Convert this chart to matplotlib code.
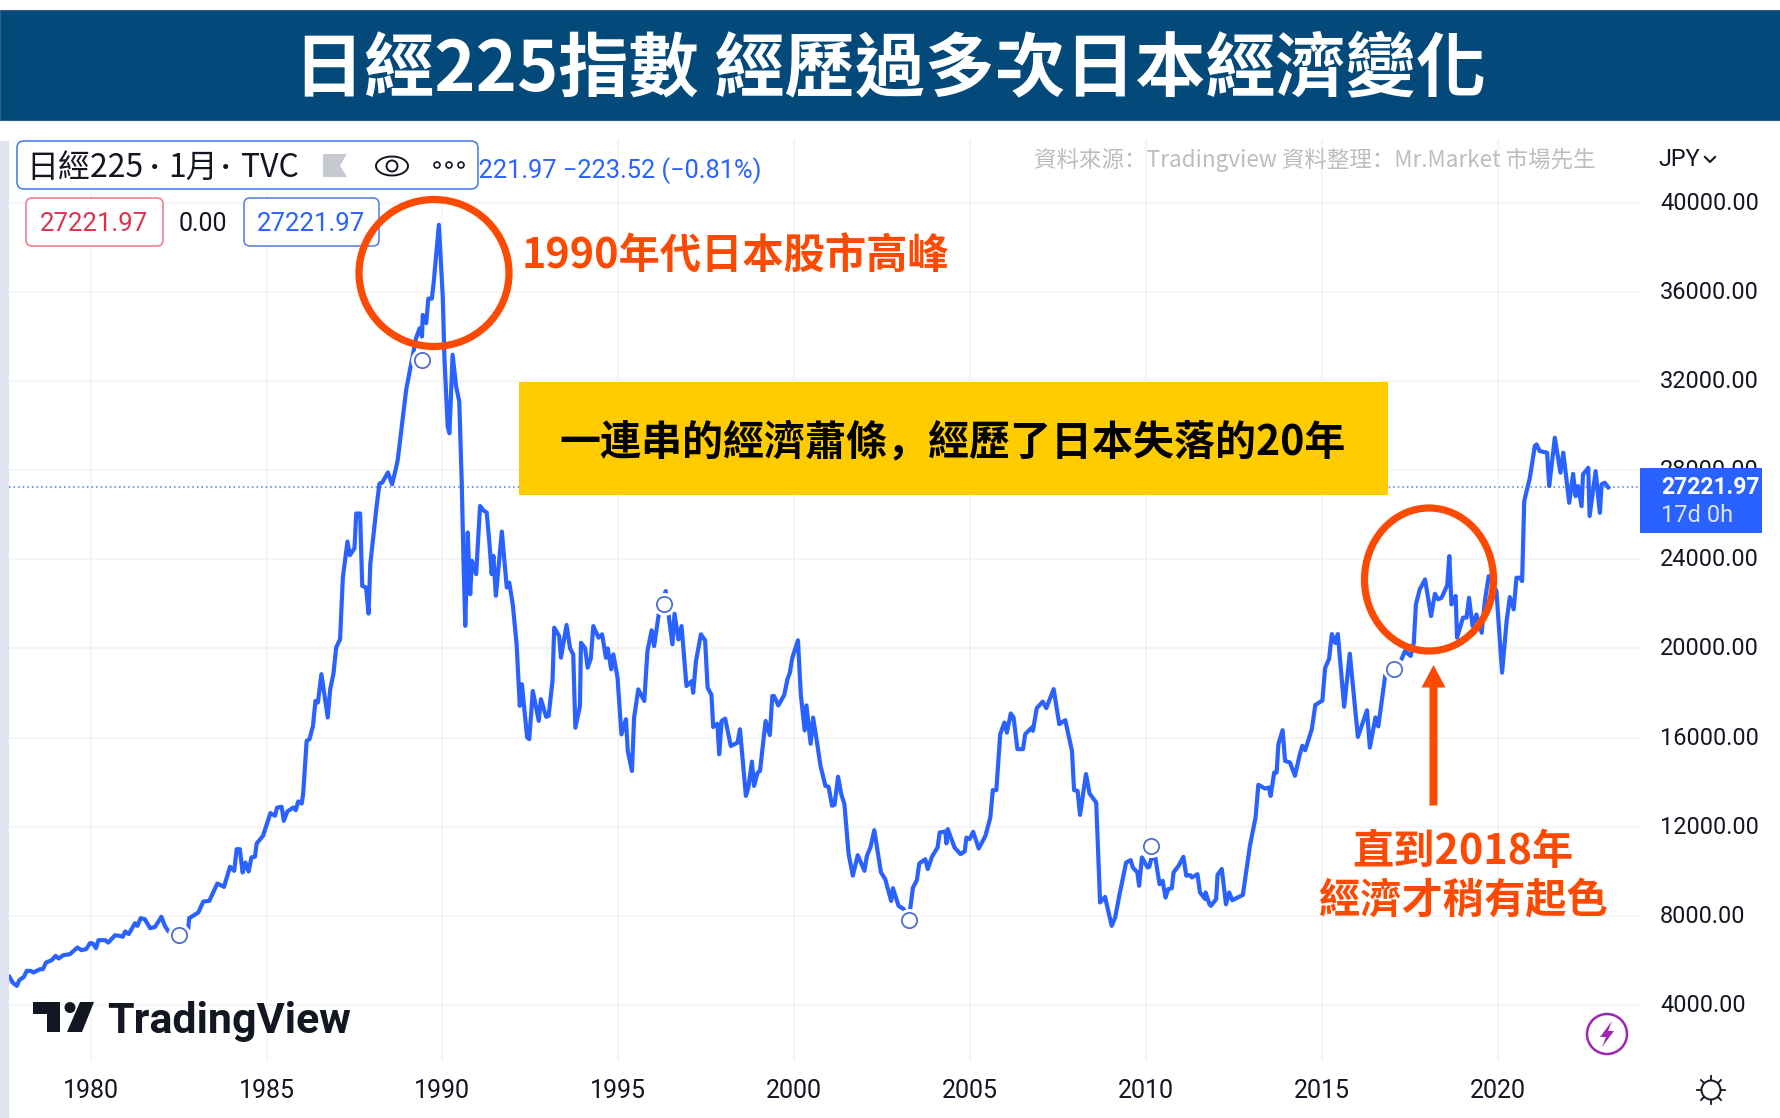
import matplotlib
matplotlib.use("Agg")
import matplotlib.pyplot as plt
from matplotlib.patches import Rectangle, Ellipse, FancyBboxPatch, Polygon, Circle
from matplotlib.transforms import ScaledTranslation

# ---------- data ----------
years_a = [1977.69,1977.78,1977.90,1977.97,1978.10,1978.18,1978.30,1978.37,1978.56,1978.64,1978.73,1978.89,1979.00,1979.09,1979.22,1979.41,1979.62,1979.74,1979.87,1979.98,
           1980.06,1980.15,1980.22,1980.41,1980.50,1980.69,1980.83,1980.91,1980.98,1981.08,1981.26,1981.33,1981.42,1981.54,1981.69,1981.83,1982.01,1982.11,1982.21,1982.49,
           1982.77,1982.80,1983.06,1983.20,1983.37,1983.60,1983.79,1983.96,1984.08,1984.15,1984.24,1984.32,1984.40,1984.49,1984.57,1984.67,1984.72,1984.90,
           1985.11,1985.24,1985.30,1985.43,1985.49,1985.59,1985.76,1985.83,1985.90,1986.00,1986.04]
values_a = [5262,5008,4858,5113,5262,5530,5530,5457,5606,5606,5905,6010,6205,6085,6235,6280,6580,6460,6505,6775,
            6760,6550,6910,6910,6800,7130,7100,7060,7300,7180,7670,7550,7895,7850,7445,7505,7955,7550,7300,7060,
            7400,7895,8150,8640,8670,9450,9300,10200,10020,10990,10990,9945,10390,9990,10620,10650,11250,11590,
            12610,12490,12860,12890,12260,12680,12860,12740,13130,13040,13460]

years_b = [1986.14,1986.22,1986.32,1986.39,1986.46,1986.56,1986.74,1986.81,1986.90,1986.98,1987.09,1987.17,1987.30,1987.37,1987.50,1987.55,1987.66,1987.72,1987.83,1987.90,1987.95,
           1988.13,1988.21,1988.29,1988.45,1988.57,1988.68,1988.73,1988.97,1989.18,1989.25,1989.35,1989.42,1989.44,1989.54,1989.60,1989.70,1989.75,1989.90,
           1990.01,1990.06,1990.15,1990.20,1990.29,1990.39,1990.48,1990.55,1990.60,1990.65,1990.72,1990.79,1990.84,1990.96,
           1991.07,1991.16,1991.26,1991.34,1991.40,1991.45,1991.52,1991.69,1991.83,1991.90,1992.00,1992.11,1992.20,1992.26,1992.41,1992.47,1992.57,1992.74,1992.80,1992.95]
values_b = [15850,15925,16520,17640,17570,18840,16900,18170,18840,20040,20410,23180,24790,24180,24490,26050,26050,22800,22730,21560,23780,
            26390,27390,27440,27890,27360,28080,28460,31600,33320,33910,34360,33990,34960,34590,35690,35690,36380,39000,
            35780,32940,29950,29650,33170,31750,31070,27410,23930,21010,25200,22430,23930,23330,
            26390,26200,26090,24670,23330,24150,22360,25240,22730,22950,21980,20190,17420,18390,16000,15930,18090,16750,17720,16930]

years_c = [1993.02,1993.13,1993.18,1993.32,1993.37,1993.53,1993.63,1993.72,1993.78,1993.91,1993.94,1994.06,1994.13,1994.22,1994.29,1994.44,1994.54,1994.65,1994.70,1994.80,1994.86,1994.98,
           1995.09,1995.22,1995.27,1995.39,1995.45,1995.57,1995.74,1995.83,1995.95,1996.02,1996.15,1996.35,1996.43,1996.54,1996.60,1996.71,1996.80,1996.94,
           1997.09,1997.13,1997.21,1997.35,1997.47,1997.54,1997.65,1997.70,1997.82,1997.87,1997.94,1998.04,1998.20,1998.39,1998.46,1998.63,1998.70,1998.80,1998.86,1998.96,
           1999.03,1999.19,1999.31,1999.38,1999.43,1999.55,1999.72,1999.81,1999.88,1999.95,2000.11,2000.19,2000.30,2000.35,2000.47,2000.54,2000.66]
values_c = [16970,18530,20930,20550,19580,21050,20000,19730,16440,17410,20250,20000,19130,19550,21000,20480,20630,19580,20000,19060,19730,18680,
            16140,16820,15400,14500,16890,18160,17640,19880,20810,20100,21520,22570,21520,20180,21550,20400,21000,18310,
            18530,18010,19430,20630,20360,18240,17910,16470,16620,15250,16740,16850,15620,15770,16370,13380,13750,14920,13830,14420,
            14500,16740,16110,17860,17860,17440,17910,18610,18910,19580,20360,17940,16320,17440,15720,16890,15690]

years_d = [2000.75,2000.89,2000.98,2001.08,2001.15,2001.25,2001.34,2001.43,2001.55,2001.67,2001.81,2002.00,2002.07,2002.17,2002.28,2002.47,2002.59,2002.76,2002.81,2002.97,
           2003.12,2003.26,2003.30,2003.38,2003.49,2003.56,2003.73,2003.80,2003.92,2004.08,2004.14,2004.30,2004.33,2004.37,2004.56,2004.73,2004.85,2004.90,2004.99,
           2005.09,2005.25,2005.44,2005.58,2005.65,2005.75,2005.86,2005.98,2006.05,2006.16,2006.24,2006.35,2006.51,2006.57,2006.76,2006.79,2006.90,
           2007.07,2007.17,2007.38,2007.54,2007.71,2007.90,2007.96,2008.06,2008.13,2008.30,2008.40,2008.59]
values_d = [14730,13830,13790,12940,12980,14240,13460,13010,10770,9800,10720,10020,10690,11070,11840,9950,9650,8670,9240,8450,
            8300,7700,8300,9270,9600,10350,10540,10100,10650,11070,11740,11780,11250,11890,11070,10770,10890,11510,11440,
            11770,11020,11590,12410,13640,13640,16150,16670,16220,17080,16900,15480,15480,16150,16450,16300,17320,
            17610,17320,18170,16600,16780,15400,13640,13610,12530,14360,13490,13080]

years_e = [2008.70,2008.84,2009.03,2009.13,2009.25,2009.44,2009.57,2009.63,2009.76,2009.81,2009.89,2010.05,2010.10,2010.15,2010.27,2010.39,2010.48,2010.56,2010.64,2010.74,2010.79,2010.93,
           2011.07,2011.15,2011.26,2011.31,2011.47,2011.54,2011.69,2011.70,2011.81,2011.85,2012.00,2012.04,2012.16,2012.28,2012.37,2012.46,2012.76,2012.96,
           2013.12,2013.20,2013.39,2013.50,2013.55,2013.65,2013.72,2013.77,2013.89,2013.96,2014.10,2014.24,2014.38,2014.45,2014.53,2014.72,2014.82]
values_e = [8600,8850,7550,7930,8940,10390,10500,10170,9950,9350,10620,10170,10200,10540,10620,9420,9570,8820,9200,9240,9950,10240,
            10650,9800,9830,9720,9870,9050,8750,9050,8520,8450,8750,9840,10100,8520,9050,8700,8940,11140,
            12410,13880,13710,13760,13380,14430,14430,15700,16330,14950,14880,14280,15250,15630,15430,16370,17460]

years_f = [2015.02,2015.10,2015.21,2015.29,2015.39,2015.46,2015.64,2015.80,2016.03,2016.29,2016.37,2016.53,2016.61,2016.81,
           2017.04,2017.27,2017.37,2017.53,2017.62,2017.68,2017.79,2017.94,2018.11,2018.22,2018.31,2018.41,2018.57,2018.63,2018.69,2018.81,2018.85,
           2019.02,2019.12,2019.19,2019.29,2019.40,2019.55,2019.64,2019.75,2019.97,2020.13,2020.26,2020.35,2020.46,2020.54,2020.63,2020.70,2020.76,2020.92,
           2021.06,2021.11,2021.20,2021.41,2021.47,2021.63,2021.79,2021.87,2022.04,2022.15,2022.22,2022.29,2022.39,2022.43,2022.58,2022.62,2022.79,2022.91,2022.96,2023.05,2023.15]
values_f = [17660,19130,19520,20640,20240,20640,17380,19760,16030,17220,15550,16900,16500,18810,
            19060,19510,19880,19660,20250,21970,22650,23090,21450,22450,22200,22270,22830,24140,21970,22350,20480,
            21380,21380,22270,21000,21520,20700,22120,23240,22570,18910,21230,22300,21750,23170,23170,23020,26610,27650,
            29070,29150,28850,28780,27280,29450,27880,28780,26530,27830,26830,27280,26380,27800,28100,25940,27950,26080,27360,27430,27221.97]

event_years = [1982.50,1989.41,1996.31,2003.26,2010.15,2017.06]
event_values = [7130,32940,21970,7810,11120,19090]

y_ticks = [4000,8000,12000,16000,20000,24000,28000,32000,36000,40000]
x_ticks = [1980,1985,1990,1995,2000,2005,2010,2015,2020]
last_price = 27221.97

title_text = "日經225指數 經歷過多次日本經濟變化"
peak_text = "1990年代日本股市高峰"
band_text = "一連串的經濟蕭條，經歷了日本失落的20年"
note_lines = ["直到2018年", "經濟才稍有起色"]
source_text = "資料來源：Tradingview 資料整理：Mr.Market 市場先生"

years = years_a + years_b + years_c + years_d + years_e + years_f
values = values_a + values_b + values_c + values_d + values_e + values_f

# ---------- styles ----------
W, H = 1781, 1118
CJK = ['Noto Sans CJK TC', 'DejaVu Sans']
SC = ['Noto Sans CJK SC', 'DejaVu Sans']
BLUE = '#2962FF'
ORANGE = '#FC4A03'
DARK = '#131722'
plt.rcParams['font.family'] = CJK

fig = plt.figure(figsize=(W/100, H/100), dpi=100, facecolor='white')

# main chart axes
L, R, T, B = 9, 1640, 139, 1061
ax = fig.add_axes([L/W, 1-B/H, (R-L)/W, (B-T)/H])
PX_PER_YEAR = 35.17
PX_PER_VAL = 0.02229
ax.set_xlim(1980+(L-90.7)/PX_PER_YEAR, 1980+(R-90.7)/PX_PER_YEAR)
ax.set_ylim(4000-(B-1005)/PX_PER_VAL, 4000+(1005-T)/PX_PER_VAL)
for s in ax.spines.values():
    s.set_visible(False)
ax.set_xticks(x_ticks)
ax.set_yticks(y_ticks)
ax.set_xticklabels([str(v) for v in x_ticks], family='Roboto', fontsize=18, color=DARK)
ax.set_yticklabels([f"{v:.2f}" for v in y_ticks], family='Roboto', fontsize=16.9, color=DARK)
ax.yaxis.tick_right()
ax.tick_params(axis='both', length=0)
ax.tick_params(axis='y', pad=14.5)
ax.tick_params(axis='x', pad=13.3)
up = ScaledTranslation(0, 1.4/72, fig.dpi_scale_trans)
for lab in ax.get_yticklabels():
    lab.set_transform(lab.get_transform() + up)
ax.grid(True, color='#F3F4F6', lw=1.2)
ax.set_axisbelow(True)
ax.axhline(last_price, color=BLUE, lw=1.1, ls=(0, (1, 2)), alpha=.85, zorder=1.5)
ax.plot(years, values, color=BLUE, lw=3.0, solid_joinstyle='round', zorder=3)
ax.plot(event_years, event_values, ls='none', marker='o', ms=15, mfc='white', mec='white', mew=1.5, zorder=4)
ax.plot(event_years, event_values, ls='none', marker='o', ms=11, mfc='white', mec='#4F6FD0', mew=1.3, zorder=5)

# overlay in pixel units
ov = fig.add_axes([0, 0, 1, 1], facecolor='none')
ov.set_xlim(0, W)
ov.set_ylim(H, 0)
ov.axis('off')

ov.add_patch(Rectangle((0, 10), W, 110, fc='#03497A', ec='#2F5F85', lw=.8))
ov.text(889.5, 71, title_text, color='white', fontsize=50.5, fontweight='black', ha='center', va='center')

ov.add_patch(Rectangle((0, 141), 9, H-141, fc='#E0E3F0', ec='none'))

# legend strip
ov.text(762, 171, "27221.97 −223.52 (−0.81%)", color=BLUE, family='Roboto', fontsize=18.3, ha='right', va='center', zorder=1)
ov.add_patch(FancyBboxPatch((17, 141), 461, 48, boxstyle='round,pad=0,rounding_size=7', fc='white', ec='#4F7FE8', lw=1.2, zorder=2))
for px, label in [(26, "日經225"), (168, "1月"), (241, "TVC")]:
    ov.text(px, 168, label, color=DARK, fontsize=23, fontweight='light', ha='left', va='center', zorder=3)
for px in (155, 226):
    ov.text(px, 168, "·", color=DARK, family='Roboto', fontsize=23, fontweight='bold', ha='center', va='center', zorder=3)
ov.add_patch(Polygon([(323,154),(347,154),(340,165.5),(347,177),(323,177)], fc='#C6C9D0', ec='none', zorder=3))
ov.add_patch(Ellipse((392, 166), 32, 19, fc='white', ec=DARK, lw=1.4, zorder=3))
ov.add_patch(Circle((392, 166), 5.5, fc='white', ec=DARK, lw=1.4, zorder=3))
for cx in (437, 449, 461):
    ov.add_patch(Circle((cx, 165), 3, fc='white', ec=DARK, lw=1.2, zorder=3))

ov.add_patch(FancyBboxPatch((26, 198), 137, 48, boxstyle='round,pad=0,rounding_size=6', fc='white', ec='#EE8090', lw=1.2))
ov.text(94.5, 224, "27221.97", color='#E0324F', family='Roboto', fontsize=18.5, ha='center', va='center')
ov.text(203, 224, "0.00", color=DARK, family='Roboto', fontsize=18, ha='center', va='center')
ov.add_patch(FancyBboxPatch((244, 198), 135, 48, boxstyle='round,pad=0,rounding_size=6', fc='white', ec='#5B85EA', lw=1.2))
ov.text(311.5, 224, "27221.97", color=BLUE, family='Roboto', fontsize=18.5, ha='center', va='center')

# source note and currency
ov.text(1596, 160, source_text, color='#BDBDBD', family=SC, fontsize=16.2, fontweight='light', ha='right', va='center')
ov.text(1658, 159, "JPY", color=DARK, family='Roboto', fontsize=16.8, ha='left', va='center')
ov.plot([1705, 1710, 1715], [157, 162, 157], color=DARK, lw=1.5)

# price tag
ov.add_patch(Rectangle((1640, 468), 122, 65, fc=BLUE, ec='none'))
ov.text(1661, 487, "27221.97", color='white', family='Roboto', fontsize=16.5, fontweight='bold', ha='left', va='center')
ov.text(1661, 516, "17d 0h", color='#DCE4FF', family='Roboto', fontsize=17, ha='left', va='center')

# callouts
ov.add_patch(Ellipse((434, 273), 150, 147, fc='none', ec=ORANGE, lw=5.2))
ov.add_patch(Ellipse((1429, 579.5), 129, 143, fc='none', ec=ORANGE, lw=5.2))
ov.text(522, 257, peak_text, color=ORANGE, fontsize=29.7, fontweight='black', ha='left', va='center')
ov.add_patch(Rectangle((519.5, 382), 868.5, 113, fc='#FFCC00', ec='none'))
ov.text(953, 442, band_text, color='black', family=SC, fontsize=29.5, fontweight='black', ha='center', va='center')
ov.add_patch(Polygon([(1433.5,665),(1445.5,687.5),(1437.5,687.5),(1437.5,805.5),(1429.5,805.5),(1429.5,687.5),(1421.5,687.5)], fc=ORANGE, ec='none'))
ov.text(1463, 852, note_lines[0], color=ORANGE, fontsize=29.7, fontweight='black', ha='center', va='center')
ov.text(1463, 901, note_lines[1], color=ORANGE, fontsize=29.7, fontweight='black', ha='center', va='center')

# TradingView logo
ov.add_patch(Polygon([(33,1002),(60,1002),(60,1032),(47,1032),(47,1014),(33,1014)], fc=DARK, ec='none'))
ov.add_patch(Circle((70, 1007.5), 5.5, fc=DARK, ec='none'))
ov.add_patch(Polygon([(80,1002),(94,1002),(82,1032),(67,1032)], fc=DARK, ec='none'))
ov.text(107, 1021, "TradingView", color=DARK, family='Roboto', fontsize=31, fontweight='bold', ha='left', va='center')

# lightning badge
ov.add_patch(Circle((1607, 1034), 20, fc='white', ec='#9C27B0', lw=1.8))
ov.add_patch(Polygon([(1612,1021),(1600,1037),(1606,1037),(1602,1047),(1614,1031),(1608,1031)], fc='#9C27B0', ec='none'))

# settings icon
ov.add_patch(Circle((1711, 1090), 9.5, fc='white', ec=DARK, lw=1.4))
for dx, dy in [(0,-14),(0,14),(-14,0),(14,0),(-10,-10),(10,-10),(-10,10),(10,10)]:
    ov.plot([1711+dx*.72, 1711+dx], [1090+dy*.72, 1090+dy], color=DARK, lw=1.3)

fig.savefig('out.png', dpi=100)
